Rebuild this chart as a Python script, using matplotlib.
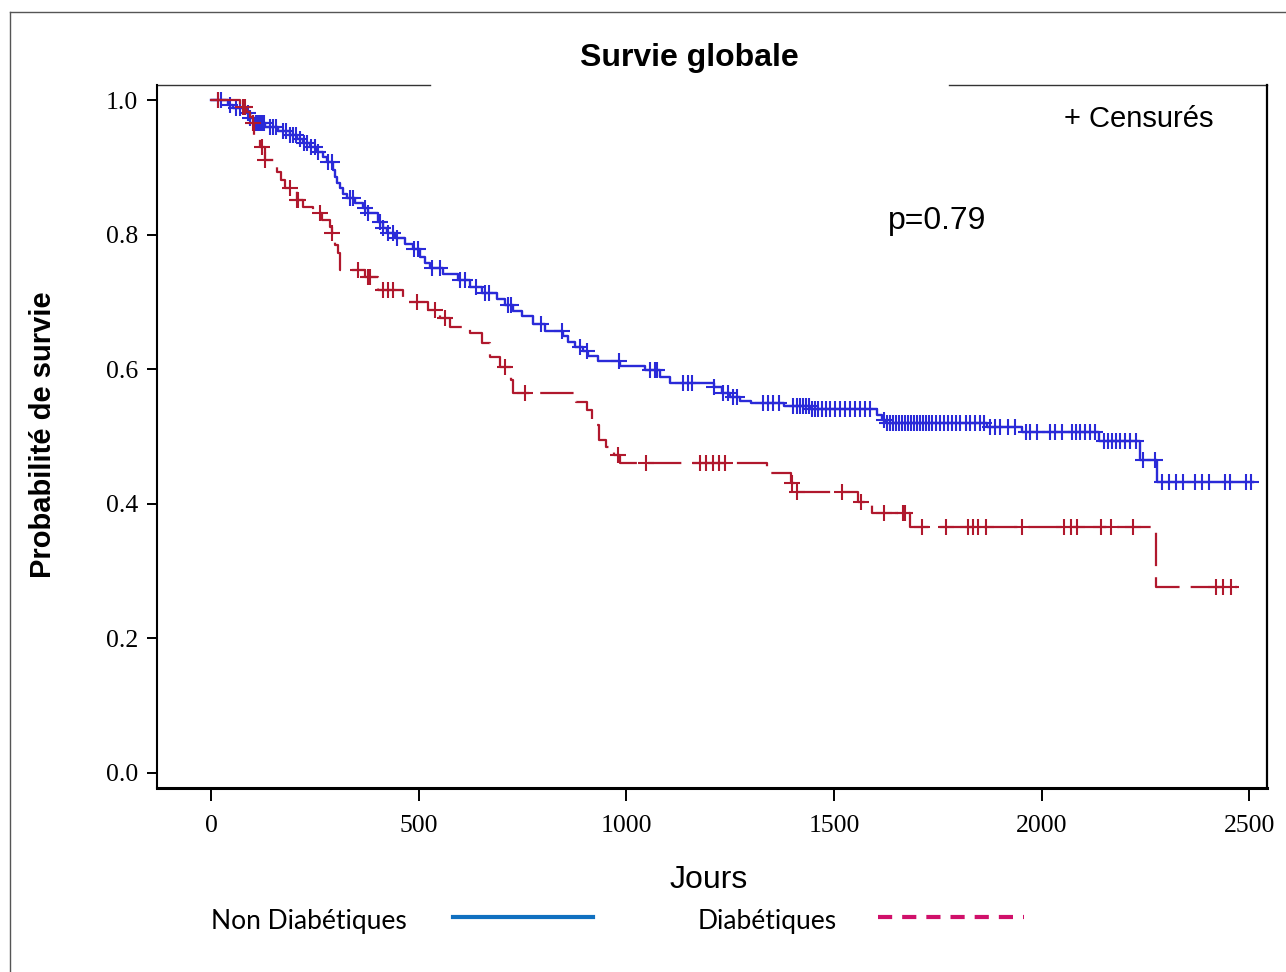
import numpy as np
import matplotlib
matplotlib.use("Agg")
from matplotlib import pyplot as plt
from matplotlib.lines import Line2D

# courbe des non diabetiques (temps de deces, survie apres le saut)
blue_t = [0, 41, 53, 82, 94, 106, 130, 161, 190, 207, 222, 238, 255, 270, 279, 294, 299, 303, 311, 318,
          328, 347, 366, 378, 402, 414, 424, 443, 467, 487, 503, 515, 527, 559, 595, 624, 653, 689, 708, 727,
          749, 776, 804, 848, 860, 877, 896, 908, 932, 985, 1045, 1081, 1106, 1211, 1231, 1250, 1274, 1301, 1380, 1443,
          1604, 1616, 1626, 1869, 1953, 2139, 2237, 2278, 2510]
blue_s = [1.0, .993, .988, .981, .973, .966, .960, .954, .948, .942, .936, .930, .923, .915, .908, .896, .885, .877, .869, .860,
          .854, .847, .840, .832, .819, .810, .802, .795, .786, .779, .767, .758, .750, .741, .733, .722, .713, .704, .695, .686,
          .679, .667, .657, .649, .640, .633, .627, .620, .612, .605, .599, .588, .579, .574, .565, .559, .553, .550, .545, .541,
          .532, .525, .520, .514, .507, .493, .465, .432, .432]
blue_cens = [17, 24, 46, 60, 70, 89, 94, 108, 113, 118, 123, 128, 142, 150, 157, 173, 181, 190, 197, 205, 214, 224, 232,
             241, 250, 258, 282, 291, 335, 342, 371, 378, 407, 414, 426, 438, 448, 489, 499, 532, 552, 600, 612, 638, 660,
             670, 715, 723, 795, 845, 889, 906, 983, 1057, 1069, 1074, 1137, 1149, 1158, 1211, 1233, 1245, 1256, 1267,
             1329, 1342, 1354, 1368, 1402, 1411, 1419, 1426, 1433, 1440, 1448, 1455, 1462, 1472, 1481, 1491, 1503, 1515,
             1527, 1539, 1551, 1563, 1575, 1587, 1621, 1628, 1635, 1643, 1650, 1657, 1664, 1671, 1679, 1686, 1693, 1700,
             1708, 1715, 1722, 1729, 1737, 1746, 1756, 1765, 1775, 1785, 1794, 1804, 1818, 1828, 1840, 1852, 1862, 1876,
             1888, 1900, 1920, 1936, 1963, 1973, 1989, 2021, 2033, 2050, 2074, 2083, 2093, 2105, 2117, 2129, 2151, 2160,
             2170, 2180, 2189, 2201, 2213, 2228, 2245, 2274, 2290, 2307, 2324, 2341, 2370, 2387, 2404, 2442, 2454, 2493,
             2505]

# courbe des diabetiques
red_t = [0, 70, 87, 94, 100, 104, 118, 130, 159, 168, 178, 207, 222, 246, 267, 287, 291, 299, 306, 311,
         371, 402, 462, 523, 552, 576, 624, 653, 672, 696, 722, 727, 879, 906, 918, 934, 951, 971, 985, 1339,
         1397, 1407, 1558, 1592, 1684, 2276, 2471]
red_s = [1.0, .990, .982, .975, .966, .948, .930, .911, .893, .881, .869, .851, .841, .832, .822, .811, .802, .785, .773, .747,
         .737, .718, .700, .688, .676, .663, .654, .639, .618, .603, .584, .565, .551, .539, .517, .495, .484, .473, .461, .446,
         .431, .418, .403, .386, .366, .276, .276]
red_cens = [17, 77, 82, 101, 123, 130, 190, 207, 210, 262, 291, 354, 378, 383, 414, 426, 438, 496, 540, 564, 708, 756,
            980, 1047, 1177, 1193, 1210, 1224, 1238, 1400, 1411, 1520, 1565, 1621, 1667, 1671, 1712, 1770, 1823, 1835,
            1847, 1867, 1953, 2054, 2071, 2086, 2144, 2168, 2221, 2421, 2437, 2457]

x_ticks = [0, 500, 1000, 1500, 2000, 2500]
y_ticks = [0.0, 0.2, 0.4, 0.6, 0.8, 1.0]

col_blue = "#2a2ad8"
col_red = "#b0182d"


def surv_at(times, surv, t):
    idx = np.searchsorted(times, t, side="right") - 1
    return np.array(surv)[idx]


fig = plt.figure(figsize=(12.86, 9.72), dpi=100)
ax = fig.add_axes([157 / 1286, 1 - 788 / 972, 1110 / 1286, 703 / 972])

ax.step(blue_t, blue_s, where="post", color=col_blue, lw=1.7)
ax.plot(blue_cens, surv_at(blue_t, blue_s, blue_cens), "+", color=col_blue, ms=11, mew=1.5)

ax.step(red_t, red_s, where="post", color=col_red, lw=1.6, linestyle=(0, (15, 5)))
ax.plot(red_cens, surv_at(red_t, red_s, red_cens), "+", color=col_red, ms=11, mew=1.5)

ax.set_xlim(-130, 2543)
ax.set_ylim(-0.0223, 1.0223)
ax.set_xticks(x_ticks)
ax.set_xticklabels([str(v) for v in x_ticks])
ax.set_yticks(y_ticks)
ax.set_yticklabels(["%.1f" % v for v in y_ticks])
for lab in ax.get_xticklabels() + ax.get_yticklabels():
    lab.set_fontfamily("Liberation Serif")
    lab.set_fontsize(18.5)
ax.tick_params(axis="x", direction="out", length=9.5, width=1.4, pad=10)
ax.tick_params(axis="y", direction="out", length=7.5, width=1.4, pad=6)

ax.spines["top"].set_visible(False)
ax.spines["left"].set_linewidth(1.5)
ax.spines["right"].set_linewidth(1.6)
ax.spines["bottom"].set_linewidth(2.2)
# bord superieur coupe par le titre
ax.plot([0, (430 - 157) / 1110], [1, 1], transform=ax.transAxes, color="#333333", lw=1, clip_on=False)
ax.plot([(949 - 157) / 1110, 1], [1, 1], transform=ax.transAxes, color="#333333", lw=1, clip_on=False)

# cadre exterieur
fig.add_artist(Line2D([10 / 1286, 1], [1 - 12 / 972, 1 - 12 / 972], transform=fig.transFigure, color="#555555", lw=1))
fig.add_artist(Line2D([10 / 1286, 10 / 1286], [0, 1 - 12 / 972], transform=fig.transFigure, color="#555555", lw=1))

sans = "Liberation Sans"
fig.text(689 / 1286, 1 - 58 / 972, "Survie globale", ha="center", va="center", fontsize=23,
         fontweight="bold", family=sans)
fig.text(43 / 1286, 1 - 435 / 972, "Probabilité de survie", ha="center", va="center", fontsize=21,
         fontweight="bold", family=sans, rotation=90)
fig.text(709 / 1286, 1 - 880 / 972, "Jours", ha="center", va="center", fontsize=23, family=sans)
fig.text(1214 / 1286, 1 - 119 / 972, "+ Censurés", ha="right", va="center", fontsize=21, family=sans)
fig.text(888 / 1286, 1 - 221 / 972, "p=0.79", ha="left", va="center", fontsize=23, family=sans)

# legende en bas
fig.text(211 / 1286, 1 - 921 / 972, "Non Diabétiques", ha="left", va="center", fontsize=19, family="Lato")
fig.add_artist(Line2D([453 / 1286, 593 / 1286], [1 - 917 / 972, 1 - 917 / 972], transform=fig.transFigure,
                      color="#1070c0", lw=3))
fig.text(698 / 1286, 1 - 921 / 972, "Diabétiques", ha="left", va="center", fontsize=19, family="Lato")
fig.add_artist(Line2D([878 / 1286, 1024 / 1286], [1 - 917 / 972, 1 - 917 / 972], transform=fig.transFigure,
                      color="#d0106a", lw=3, linestyle=(0, (3.4, 2.4))))

fig.savefig("out.png", dpi=100)
